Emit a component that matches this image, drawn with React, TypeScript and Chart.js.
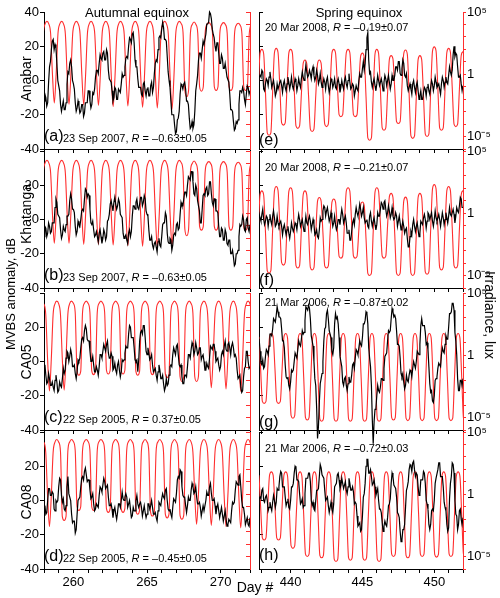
import React, { useEffect, useRef } from "react";
import { Chart, registerables } from "chart.js";
Chart.register(...registerables);

const FONT = "'Liberation Sans', Arial, Helvetica, sans-serif";
const RED = "#ff2e2e";

// ---------- axes ----------
const autumnRange = [258, 272];
const springRange = [437.8, 452];
const autumnTickDays = [258, 259, 260, 261, 262, 263, 264, 265, 266, 267, 268, 269, 270, 271, 272];
const springTickDays = [438, 439, 440, 441, 442, 443, 444, 445, 446, 447, 448, 449, 450, 451, 452];
const autumnLabelDays = [260, 265, 270];
const springLabelDays = [440, 445, 450];
const irradianceDecades = [-6, -5, -4, -3, -2, -1, 0, 1, 2, 3, 4, 5];

// ---------- sampling ----------
const blackSamplesPerDay = 16;
const redSamplesPerDay = 8;
const autumnBlackStart = 258.0;
const springBlackStart = 437.75;
const redStartAnabarKhatangaAutumn = 257.7;
const redStartCAAutumn = 257.37;
const redStartAnabarKhatangaSpring = 437.5;
const redStartCASpring = 437.16;

// ---------- MVBS anomaly, dB (black), 16 samples per day ----------
const anabarAutumnMVBS = [
  -12, -8, -10, -15, -13, -1, 8, 11, 18, 23, 24, 18, 21, 19, 10, 0,
  -3, -6, -14, -18, -15, -12, -17, -17, -13, -2, 5, 4, 10, 12, 8, 0,
  -2, -5, -13, -18, -16, -12, -15, -19, -18, -14, -14, -21, -19, -13, -13, -13,
  -6, -6, -12, -16, -14, -7, -8, -5, 2, 6, 6, 4, 10, 15, 13, 12,
  16, 17, 12, 12, 18, 16, 6, 1, 0, -1, -6, -12, -10, -4, -5, -11,
  -11, -5, -6, -7, -2, 4, 2, 3, 8, 13, 14, 13, 20, 25, 24, 22,
  27, 28, 22, 12, 8, 8, 1, -4, -4, -4, -8, -9, -2, -1, -6, -9,
  -5, -4, -9, -9, -3, -1, -7, -4, 4, 10, 12, 11, 18, 25, 26, 25,
  30, 34, 31, 24, 24, 23, 14, 5, 0, -4, -12, -20, -20, -20, -26, -31,
  -30, -23, -22, -18, -8, -2, -3, -5, -2, -1, -5, -12, -12, -14, -22, -28,
  -27, -24, -28, -26, -18, -6, -2, 3, 12, 16, 16, 13, 18, 23, 21, 21,
  27, 33, 33, 34, 40, 39, 36, 30, 27, 25, 20, 17, 22, 22, 16, 10,
  10, 15, 13, 7, 7, 10, 6, 2, 2, -1, -8, -17, -17, -18, -24, -29,
  -28, -24, -25, -23, -14, -6, -6, -7, -4, -6, -11, -14, -8, -3, -4, -8,
  -6,
];
const khatangaAutumnMVBS = [
  -10, -4, -5, -10, -8, -2, -4, -8, -7, -2, -2, -2, 7, 12, 10, 3,
  2, 1, -6, -11, -9, -4, -6, -7, -3, 2, 2, 3, 11, 15, 12, 6,
  6, 4, -4, -9, -7, -1, -3, -4, 0, 5, 6, 5, 12, 18, 17, 13,
  15, 14, 6, -2, -3, -1, -6, -10, -9, -7, -10, -13, -8, -6, -10, -14,
  -11, -6, -8, -12, -10, -1, 0, 3, 9, 11, 8, 5, 10, 13, 9, 6,
  8, 12, 10, 3, 2, 1, -8, -11, -10, -9, -12, -14, -8, -6, -10, -7,
  2, 8, 8, 6, 10, 12, 7, 6, 9, 13, 13, 8, 10, 14, 12, 5,
  3, 2, -6, -12, -12, -10, -15, -17, -14, -13, -16, -19, -13, -11, -15, -16,
  -10, -3, -2, -2, 4, 2, -8, -13, -14, -11, -12, -18, -15, -9, -8, -9,
  -3, -2, -6, -5, 3, 10, 8, 8, 12, 16, 16, 14, 20, 25, 24, 23,
  28, 28, 22, 15, 14, 20, 18, 11, 8, 5, -2, -2, 6, 14, 15, 14,
  18, 19, 14, 15, 22, 22, 15, 10, 8, 12, 12, 5, 5, 4, -4, -10,
  -10, -5, -6, -12, -12, -6, -8, -14, -15, -12, -12, -20, -20, -18, -22, -27,
  -26, -20, -20, -18, -10, -3, -4, -3, 2, 0, -6, -7, 0, 1, -5, -7,
  -3,
];
const ca05AutumnMVBS = [
  -3, -2, -8, -13, -12, -7, -10, -14, -14, -12, -15, -17, -11, -8, -12, -18,
  -17, -12, -14, -15, -10, -4, -7, -5, 2, 6, 5, 0, 3, 7, 4, -3,
  -3, -2, -7, -10, -6, 1, 0, 2, 8, 13, 14, 12, 18, 21, 19, 13,
  12, 12, 6, 0, 0, 3, -2, -6, -6, -3, -5, -8, -3, 4, 4, 2,
  6, 10, 8, 6, 10, 12, 5, 2, 2, 5, 3, -5, -4, -1, -5, -7,
  -2, 0, -5, -9, -6, 1, 0, 1, 5, 9, 8, 8, 16, 21, 20, 14,
  14, 14, 8, 1, 0, 1, -6, 1, 12, 17, 18, 16, 21, 21, 14, 6,
  4, 8, 5, 1, 2, 4, -2, -6, -5, -4, -8, -11, -6, -2, -5, -10,
  -10, -8, -13, -17, -15, -10, -14, -13, -8, -3, -2, -3, 4, 8, 6, 4,
  9, 10, 4, -2, -3, -2, -9, -13, -13, -8, -8, -9, -3, 4, 4, 2,
  7, 11, 9, 4, 6, 11, 8, 4, 5, 8, 8, 1, 3, 4, 0, -5,
  -5, -1, -3, -4, 2, 9, 8, 7, 10, 10, 6, 0, 1, 2, -2, -5,
  -3, 4, 6, 4, 9, 12, 7, 6, 10, 11, 8, 4, 9, 11, 8, 3,
  4, 2, -5, -10, -10, -8, -15, -18, -17, -9, -4, -3, 6, 6, 0, -4,
  -3,
];
const ca08AutumnMVBS = [
  -4, -3, -8, -7, 0, 7, 7, 3, 3, 5, 4, -5, -6, 0, -1, 0,
  8, 13, 12, 3, -1, 1, -5, -6, -3, 8, 14, 4, 2, 0, -8, -13,
  -12, -12, -19, -17, -8, 0, 0, 2, 8, 13, 14, 12, 17, 19, 15, 11,
  12, 12, 6, 1, 2, 4, -2, -6, -5, -2, -3, -4, 3, 8, 7, 5,
  9, 13, 11, 7, 8, 9, 2, -3, -3, -2, -5, -10, -6, -4, -8, -11,
  -7, -2, -2, -4, 0, 5, 1, 0, 2, 4, 2, -4, -2, 0, -5, -10,
  -9, -4, -6, -6, 0, 3, -2, -4, -2, -1, -4, -9, -6, -3, -7, -10,
  -8, -2, -2, -5, -3, 0, -4, -8, -8, -7, -10, -12, -6, -1, -2, -3,
  1, 4, 2, 1, 6, 7, 0, -5, -6, -5, -8, -10, -4, 1, 0, -1,
  4, 12, 14, 13, 18, 17, 8, 3, 2, 2, -3, -7, -3, 2, 0, 0,
  6, 10, 8, 4, 5, 8, 2, -2, -2, -1, -4, -9, -6, -3, -6, -6,
  0, 5, 3, 3, 8, 10, 4, 0, 0, 1, -3, -8, -4, -2, -6, -10,
  -7, -4, -8, -12, -9, -6, -11, -15, -14, -11, -12, -13, -6, -1, -2, -1,
  6, 11, 10, 9, 14, 15, 8, 0, -4, -4, -8, -14, -12, -10, -14, -15,
  -10,
];
const anabarSpringMVBS = [
  -5, 2, 3, 2, 6, 5, -5, -6, -2, 1, 0, -3, 2, 5, 1, -4,
  -2, 0, -4, -9, -7, -2, -5, -5, -1, 0, -3, -7, -2, 0, -4, -6,
  -2, 2, -1, -5, -2, 2, -3, -5, -2, 1, -1, -6, -3, 1, -2, -4,
  1, 5, 2, 0, 4, 9, 5, 2, 3, 6, 4, 1, 6, 8, 3, 0,
  2, 6, 3, -2, 0, 4, -1, -4, -2, 1, -1, -5, 0, 2, -3, -7,
  -4, 1, 0, -4, -2, 1, -4, -5, -1, 1, -2, -7, -4, 0, -3, -5,
  0, 2, -2, -4, 0, 4, -1, -5, -4, -2, -3, -9, -6, -3, -5, -6,
  0, 4, 2, 2, 7, 11, 6, 10, 18, 25, 28, 12, 4, 5, -1, -4,
  -1, 1, -3, -6, -2, 3, 0, -3, -1, 1, -2, -6, -1, 3, 1, -3,
  0, 3, -1, -5, -2, 3, 0, 0, 3, 8, 8, 6, 11, 11, 4, 3,
  7, 12, 10, 3, 2, 4, -3, -6, -4, -2, -5, -8, -2, 0, -4, -7,
  -3, -1, -6, -11, -9, -6, -11, -11, -7, -4, -5, -9, -4, -2, -6, -8,
  -4, 0, -2, -6, -3, 2, -1, -4, -3, -2, -5, -8, -2, 2, 0, -4,
  -1, 2, -1, -2, 3, 8, 5, 3, 6, 15, 20, 14, 16, 15, 8, 2,
  2, 3, -2, -6, -3,
];
const khatangaSpringMVBS = [
  -2, 3, 1, -1, 3, 6, 0, -3, -1, 2, 1, -4, 0, 3, -1, -3,
  2, 5, 1, -4, -3, 2, -2, -4, -2, -1, -4, -9, -5, -3, -6, -9,
  -6, -4, -8, -11, -7, -2, -5, -7, -5, -2, -3, -6, -1, 3, 0, -4,
  -2, 0, -4, -7, -3, 2, -2, -3, 0, 2, -1, -6, -3, 0, -3, -9,
  -8, -6, -10, -11, -6, 1, -1, 0, 5, 8, 7, 2, 5, 7, 3, -1,
  1, 4, 0, -4, -2, 2, -3, -6, -4, 0, 0, -3, 2, 6, 3, -2,
  0, 2, -2, -8, -8, -6, -12, -12, -7, -2, 0, -3, 3, 7, 4, 2,
  5, 9, 6, 2, 4, 7, 1, -2, -1, 0, -4, -5, 2, 4, -1, -4,
  -1, 1, -3, -6, -3, 4, 2, 2, 6, 10, 9, 6, 10, 11, 6, 2,
  4, 8, 5, 1, 3, 7, 2, 0, 1, 4, 2, -4, -1, 2, -2, -6,
  -4, -1, -4, -8, -6, -5, -11, -16, -16, -10, -7, -9, -3, 0, -4, -7,
  -4, -2, -6, -10, -8, -1, -2, -3, 1, 3, 0, -5, -1, 4, 3, 0,
  2, 4, -1, -4, 0, 5, 1, -1, 1, 3, 0, -4, 0, 4, 1, -3,
  0, 4, 1, -2, 2, 7, 3, 2, 4, 6, 3, -2, 2, 7, 5, 4,
  8, 13, 12, 7, 7,
];
const ca05SpringMVBS = [
  13, 13, 6, -1, -2, 1, -4, -3, 3, 7, 6, 4, 9, 16, 16, 15,
  19, 25, 24, 23, 27, 32, 29, 26, 26, 25, 19, 12, 12, 8, -2, -9,
  -10, -9, -14, -16, -12, -5, -6, -5, 0, 5, 5, 2, 7, 12, 10, 9,
  13, 18, 16, 17, 24, 32, 31, 30, 33, 31, 25, 15, 12, 9, 0, -10,
  -14, -27, -45, -38, -24, -13, -10, -7, 0, 12, 19, 20, 28, 30, 25, 18,
  16, 14, 6, 4, 8, 22, 28, 25, 26, 22, 14, 3, 0, -3, -12, -14,
  -10, -9, -14, -17, -13, -9, -12, -12, -8, -2, -1, -4, 2, 7, 6, 4,
  8, 12, 10, 9, 14, 22, 22, 24, 29, 28, 22, 8, 2, -3, -14, -34,
  -48, -35, -28, -27, -20, -14, -17, -18, -15, -10, -10, -11, -4, 3, 4, 5,
  12, 18, 17, 18, 25, 31, 29, 26, 27, 25, 18, 10, 10, 9, 2, -7,
  -9, -7, -12, -16, -14, -8, -11, -12, -8, -5, -6, -9, -4, 0, -2, -4,
  0, 6, 5, 4, 10, 21, 25, 21, 21, 21, 17, 10, 11, 7, -3, -13,
  -18, -17, -23, -24, -20, -11, -10, -9, -4, -1, -2, -3, 4, 8, 6, 5,
  10, 15, 13, 13, 20, 28, 28, 29, 34, 34, 30, 17, 12, 4, -10, -17,
  -17, -11, -11, -14, -10,
];
const ca08SpringMVBS = [
  -6, 1, 2, 1, 6, 7, 0, -1, 2, 3, 0, -6, -4, -1, -4, -6,
  -1, 3, 0, -4, -1, 7, 6, 8, 14, 17, 16, 8, 8, 8, 2, -3,
  -1, 1, -4, -5, 0, 8, 8, 10, 16, 20, 19, 12, 12, 11, 4, -2,
  -1, 1, -4, -3, 4, 13, 13, 13, 16, 16, 11, 0, -3, -1, -5, -6,
  0, 6, 6, 7, 14, 21, 19, 15, 15, 13, 6, 0, 1, 2, -3, -7,
  -4, -1, -5, -7, -2, 8, 9, 10, 15, 16, 12, 7, 9, 13, 10, 7,
  9, 11, 6, 4, 8, 13, 10, 6, 6, 8, 5, -2, -1, -2, -9, -15,
  -14, -13, -18, -17, -9, 2, 4, 10, 20, 24, 24, 16, 16, 18, 14, 9,
  10, 12, 8, 3, 5, 7, 0, -5, -5, -7, -13, -18, -15, -12, -14, -15,
  -10, -3, -2, 1, 10, 16, 14, 9, 8, 7, 2, -7, -8, -10, -18, -24,
  -23, -17, -17, -14, -4, 6, 8, 11, 18, 21, 20, 17, 22, 23, 18, 14,
  16, 15, 8, 3, 4, 12, 12, 12, 17, 16, 10, 0, -2, -5, -14, -17,
  -14, -6, -5, -6, 0, 10, 13, 13, 18, 22, 22, 14, 14, 14, 8, -1,
  -4, -6, -14, -18, -16, 1, 10, 14, 22, 21, 16, 0, -8, -9, -17, -14,
  -6, -5, -11, -14, -10,
];

// ---------- Irradiance, log10(lux) (red), 8 samples per day ----------
const anabarAutumnIrr = [
  -2.4, -0.07, 3.25, 4.05, 4.25, 4.05, 3.27, -0.01,
  -2.3, -0.01, 3.27, 4.05, 4.25, 4.05, 3.25, -0.07,
  -2.4, -0.07, 3.25, 4.05, 4.25, 4.05, 3.25, -0.1,
  -2.45, -0.1, 3.25, 4.05, 4.25, 4.05, 3.24, -0.14,
  -2.5, -0.14, 3.24, 4.05, 4.25, 4.05, 3.22, -0.2,
  -2.6, -0.2, 3.22, 4.05, 4.25, 4.05, 3.23, -0.17,
  -2.55, -0.17, 3.23, 4.05, 4.25, 4.05, 3.22, -0.24,
  -2.65, -0.24, 3.22, 4.05, 4.25, 4.05, 3.21, -0.27,
  -2.7, -0.27, 3.21, 4.05, 4.25, 4.04, 3.19, -0.33,
  -2.8, -0.33, 3.19, 4.04, 4.25, 4.07, 3.34, -1.3,
  -1.8, -1.3, 3.3, 4.0, 4.2, 4.0, 3.3, -1.0,
  -1.35, -1.0, 3.3, 4.0, 4.15, 4.0, 3.3, -1.0,
  -1.3, -1.0, 3.3, 4.0, 4.15, 4.0, 3.3, -1.0,
  -1.3, -1.0, 3.25, 3.95, 4.1, 3.95, 3.25, -1.0,
  -1.3, -1.0, 3.25, 3.95, 4.1, 3.95, 3.25, -1.0,
  -1.3,
];
const khatangaAutumnIrr = [
  -2.4, -0.07, 3.25, 4.05, 4.25, 4.05, 3.25, -0.07,
  -2.4, -0.07, 3.25, 4.05, 4.25, 4.05, 3.25, -0.07,
  -2.4, -0.07, 3.25, 4.05, 4.25, 4.05, 3.24, -0.14,
  -2.5, -0.14, 3.24, 4.05, 4.25, 4.05, 3.24, -0.14,
  -2.5, -0.14, 3.24, 4.05, 4.25, 4.05, 3.23, -0.17,
  -2.55, -0.17, 3.23, 4.05, 4.25, 4.05, 3.22, -0.2,
  -2.6, -0.2, 3.22, 4.05, 4.25, 4.05, 3.22, -0.24,
  -2.65, -0.24, 3.22, 4.05, 4.25, 4.05, 3.21, -0.27,
  -2.7, -0.27, 3.21, 4.05, 4.25, 4.05, 3.22, -0.2,
  -2.6, -0.2, 3.22, 4.05, 4.25, 4.07, 3.34, -1.3,
  -1.8, -1.3, 3.3, 4.0, 4.2, 4.0, 3.3, -1.05,
  -1.35, -1.05, 3.3, 4.0, 4.15, 4.0, 3.3, -1.05,
  -1.35, -1.05, 3.3, 4.0, 4.15, 4.0, 3.3, -1.05,
  -1.35, -1.05, 3.25, 3.95, 4.1, 3.95, 3.25, -1.05,
  -1.35, -1.05, 3.25, 3.95, 4.1, 3.95, 3.25, -1.05,
  -1.35,
];
const ca05AutumnIrr = [
  -2.8, -0.3, 3.28, 4.14, 4.35, 4.13, 3.27, -0.34,
  -2.87, -0.34, 3.27, 4.13, 4.35, 4.14, 3.28, -0.3,
  -2.8, -0.3, 3.28, 4.14, 4.35, 4.17, 3.46, -1.3,
  -1.6, -1.3, 3.46, 4.17, 4.35, 4.17, 3.46, -1.25,
  -1.55, -1.25, 3.46, 4.17, 4.35, 4.17, 3.47, -1.2,
  -1.5, -1.2, 3.47, 4.17, 4.35, 4.17, 3.47, -1.2,
  -1.5, -1.2, 3.47, 4.17, 4.35, 4.17, 3.46, -1.3,
  -1.6, -1.3, 3.46, 4.17, 4.35, 4.17, 3.46, -1.25,
  -1.55, -1.25, 3.46, 4.17, 4.35, 4.17, 3.43, -1.5,
  -1.8, -1.5, 3.43, 4.17, 4.35, 4.16, 3.38, -1.7,
  -2.1, -1.7, 3.38, 4.16, 4.35, 4.16, 3.38, -1.7,
  -2.1, -1.7, 3.38, 4.16, 4.35, 4.14, 3.31, -0.17,
  -2.6, -0.17, 3.31, 4.14, 4.35, 4.14, 3.29, -0.23,
  -2.7, -0.23, 3.29, 4.14, 4.35, 4.13, 3.26, -0.36,
  -2.9, -0.36, 3.26, 4.13, 4.35, 4.13, 3.26, -0.36,
  -2.9,
];
const ca08AutumnIrr = [
  -2.6, -0.15, 3.35, 4.19, 4.4, 4.19, 3.35, -0.15,
  -2.6, -0.15, 3.35, 4.19, 4.4, 4.2, 3.43, -1.8,
  -2.1, -1.8, 3.43, 4.2, 4.4, 4.23, 3.54, -1.0,
  -1.3, -1.0, 3.54, 4.23, 4.4, 4.23, 3.54, -1.0,
  -1.3, -1.0, 3.54, 4.23, 4.4, 4.23, 3.52, -1.15,
  -1.45, -1.15, 3.52, 4.23, 4.4, 4.23, 3.52, -1.15,
  -1.45, -1.15, 3.52, 4.23, 4.4, 4.22, 3.5, -1.3,
  -1.6, -1.3, 3.5, 4.22, 4.4, 4.22, 3.48, -1.45,
  -1.75, -1.45, 3.48, 4.22, 4.4, 4.21, 3.45, -1.6,
  -1.9, -1.6, 3.45, 4.21, 4.4, 4.21, 3.44, -1.7,
  -2.0, -1.7, 3.44, 4.21, 4.4, 4.2, 3.38, -0.02,
  -2.4, -0.02, 3.38, 4.2, 4.4, 4.2, 3.37, -0.09,
  -2.5, -0.09, 3.37, 4.2, 4.4, 4.19, 3.35, -0.15,
  -2.6, -0.15, 3.35, 4.19, 4.4, 4.19, 3.34, -0.22,
  -2.7, -0.22, 3.34, 4.19, 4.4, 4.19, 3.34, -0.22,
  -2.7,
];
const anabarSpringIrr = [
  -4.0, -3.8, -1.0, 1.7, 2.0, 1.65, -1.45, -4.7,
  -4.9, -4.7, -1.4, 1.73, 2.08, 1.75, -1.0, -3.9,
  -4.08, -3.9, -1.04, 1.7, 2.0, 1.7, -1.17, -4.15,
  -4.34, -4.15, -1.6, 0.87, 1.15, 0.86, -1.73, -4.4,
  -4.6, -4.4, -1.73, 0.86, 1.15, 0.88, -1.5, -4.0,
  -4.2, -4.0, -1.1, 1.7, 2.0, 1.73, -0.7, -3.24,
  -3.4, -3.24, -0.7, 1.73, 2.0, 1.73, -0.7, -3.24,
  -3.4, -3.25, -0.85, 1.45, 1.7, 1.35, -1.8, -5.1,
  -5.3, -5.1, -1.65, 1.63, 2.0, 1.67, -1.25, -4.3,
  -4.5, -4.3, -1.5, 1.2, 1.5, 1.23, -1.23, -3.8,
  -3.95, -3.8, -1.0, 1.65, 1.95, 1.6, -1.6, -4.95,
  -5.15, -4.95, -1.83, 1.17, 1.5, 1.18, -1.75, -4.8,
  -5.0, -4.8, -1.4, 1.84, 2.2, 1.87, -1.15, -4.3,
  -4.5, -4.3, -1.2, 1.75, 2.08, 1.77, -1.06, -4.0,
  -4.2, -4.0, -1.2, 1.5, 1.8, 1.5, -1.2, -4.0,
  -4.2,
];
const khatangaSpringIrr = [
  -4.0, -3.8, -1.1, 1.5, 1.8, 1.47, -1.5, -4.6,
  -4.8, -4.6, -1.33, 1.8, 2.15, 1.83, -1.0, -3.97,
  -4.16, -3.97, -1.05, 1.74, 2.05, 1.73, -1.18, -4.2,
  -4.4, -4.2, -1.3, 1.49, 1.8, 1.48, -1.38, -4.35,
  -4.55, -4.37, -1.64, 0.98, 1.27, 0.98, -1.57, -4.23,
  -4.4, -4.23, -1.63, 0.87, 1.15, 0.91, -1.23, -3.46,
  -3.6, -3.43, -0.78, 1.77, 2.05, 1.77, -0.78, -3.43,
  -3.6, -3.46, -1.35, 0.68, 0.9, 0.61, -2.05, -4.83,
  -5.0, -4.8, -1.48, 1.7, 2.05, 1.77, -0.78, -3.43,
  -3.6, -3.44, -1.0, 1.34, 1.6, 1.27, -1.7, -4.8,
  -5.0, -4.81, -1.85, 0.98, 1.3, 0.98, -1.85, -4.81,
  -5.0, -4.8, -1.7, 1.27, 1.6, 1.27, -1.65, -4.7,
  -4.9, -4.7, -1.3, 1.94, 2.3, 1.96, -1.13, -4.35,
  -4.55, -4.35, -1.2, 1.82, 2.15, 1.82, -1.13, -4.2,
  -4.4, -4.2, -1.3, 1.49, 1.8, 1.49, -1.3, -4.2,
  -4.4,
];
const ca05SpringIrr = [
  -3.9, -3.73, -1.08, 1.47, 1.75, 1.47, -1.06, -3.7,
  -3.86, -3.7, -1.06, 1.47, 1.75, 1.47, -1.06, -3.7,
  -3.86, -3.7, -1.06, 1.47, 1.75, 1.4, -1.66, -4.85,
  -5.06, -4.85, -1.66, 1.4, 1.75, 1.4, -1.73, -5.0,
  -5.2, -5.0, -1.73, 1.4, 1.75, 1.4, -1.78, -5.1,
  -5.3, -5.1, -1.78, 1.4, 1.75, 1.4, -1.78, -5.1,
  -5.3, -5.1, -1.78, 1.4, 1.75, 1.4, -1.78, -5.1,
  -5.3, -5.1, -1.78, 1.4, 1.75, 1.4, -1.78, -5.1,
  -5.3, -5.1, -1.78, 1.4, 1.75, 1.4, -1.78, -5.1,
  -5.3, -5.1, -1.78, 1.4, 1.75, 1.4, -1.73, -5.0,
  -5.2, -5.0, -1.73, 1.4, 1.75, 1.4, -1.75, -5.05,
  -5.25, -5.05, -1.75, 1.4, 1.75, 1.4, -1.75, -5.05,
  -5.25, -5.05, -1.75, 1.4, 1.75, 1.4, -1.75, -5.05,
  -5.25, -5.05, -1.75, 1.4, 1.75, 1.4, -1.75, -5.05,
  -5.25, -5.05, -1.75, 1.4, 1.75, 1.4, -1.75, -5.05,
  -5.25,
];
const ca08SpringIrr = [
  -3.7, -3.54, -0.95, 1.53, 1.8, 1.53, -0.94, -3.5,
  -3.67, -3.5, -0.94, 1.53, 1.8, 1.53, -0.94, -3.5,
  -3.67, -3.5, -0.94, 1.53, 1.8, 1.49, -1.27, -4.15,
  -4.34, -4.15, -1.27, 1.49, 1.8, 1.46, -1.6, -4.8,
  -5.0, -4.8, -1.6, 1.46, 1.8, 1.45, -1.65, -4.9,
  -5.1, -4.9, -1.65, 1.45, 1.8, 1.44, -1.8, -5.2,
  -5.4, -5.2, -1.8, 1.44, 1.8, 1.44, -1.75, -5.1,
  -5.3, -5.1, -1.75, 1.44, 1.8, 1.44, -1.75, -5.1,
  -5.3, -5.1, -1.75, 1.44, 1.8, 1.44, -1.8, -5.2,
  -5.4, -5.2, -1.8, 1.44, 1.8, 1.46, -1.6, -4.8,
  -5.0, -4.8, -1.6, 1.46, 1.8, 1.45, -1.65, -4.9,
  -5.1, -4.9, -1.65, 1.45, 1.8, 1.46, -1.6, -4.8,
  -5.0, -4.8, -1.6, 1.46, 1.8, 1.46, -1.63, -4.85,
  -5.05, -4.85, -1.63, 1.46, 1.8, 1.46, -1.6, -4.8,
  -5.0, -4.8, -1.6, 1.46, 1.8, 1.46, -1.6, -4.8,
  -5.0,
];

// ---------- text ----------
const stations = ["Anabar", "Khatanga", "CA05", "CA08"];
const autumnNotes = [
  { letter: "(a)", date: "23 Sep 2007", r: "–0.63±0.05" },
  { letter: "(b)", date: "23 Sep 2007", r: "–0.63±0.05" },
  { letter: "(c)", date: "22 Sep 2005", r: "0.37±0.05" },
  { letter: "(d)", date: "22 Sep 2005", r: "–0.45±0.05" },
];
const springNotes = [
  { letter: "(e)", date: "20 Mar 2008", r: "–0.19±0.07" },
  { letter: "(f)", date: "20 Mar 2008", r: "–0.21±0.07" },
  { letter: "(g)", date: "21 Mar 2006", r: "–0.87±0.02" },
  { letter: "(h)", date: "21 Mar 2006", r: "–0.72±0.03" },
];

// ---------- layout ----------
const ROW_TOP = [12, 151, 293, 432];
const PH = 137;
const COL_X = [44, 259];
const COL_W = [206, 204];
const SPRING_DATE_Y = [27, 167, 302, 448];
const SPRING_LETTER_Y = [140, 280, 422, 555];

type PanelDef = {
  row: number;
  col: number;
  black: number[];
  blackStart: number;
  red: number[];
  redStart: number;
};

const panels: PanelDef[] = [
  { row: 0, col: 0, black: anabarAutumnMVBS, blackStart: autumnBlackStart, red: anabarAutumnIrr, redStart: redStartAnabarKhatangaAutumn },
  { row: 1, col: 0, black: khatangaAutumnMVBS, blackStart: autumnBlackStart, red: khatangaAutumnIrr, redStart: redStartAnabarKhatangaAutumn },
  { row: 2, col: 0, black: ca05AutumnMVBS, blackStart: autumnBlackStart, red: ca05AutumnIrr, redStart: redStartCAAutumn },
  { row: 3, col: 0, black: ca08AutumnMVBS, blackStart: autumnBlackStart, red: ca08AutumnIrr, redStart: redStartCAAutumn },
  { row: 0, col: 1, black: anabarSpringMVBS, blackStart: springBlackStart, red: anabarSpringIrr, redStart: redStartAnabarKhatangaSpring },
  { row: 1, col: 1, black: khatangaSpringMVBS, blackStart: springBlackStart, red: khatangaSpringIrr, redStart: redStartAnabarKhatangaSpring },
  { row: 2, col: 1, black: ca05SpringMVBS, blackStart: springBlackStart, red: ca05SpringIrr, redStart: redStartCASpring },
  { row: 3, col: 1, black: ca08SpringMVBS, blackStart: springBlackStart, red: ca08SpringIrr, redStart: redStartCASpring },
];

function Panel({ p }: { p: PanelDef }) {
  const ref = useRef<HTMLCanvasElement>(null);
  const LW = p.col === 0 ? 44 : 8;
  const RW = p.col === 0 ? 8 : 37;
  const PT = 10;
  const BH = 26;
  const XH = p.row === 3 ? 26 : 6;
  const plotX = COL_X[p.col];
  const plotW = COL_W[p.col];
  const plotY = ROW_TOP[p.row];
  const W = LW + plotW + RW;
  const H = PT + PH + BH;

  useEffect(() => {
    const range = p.col === 0 ? autumnRange : springRange;
    const tickDays = p.col === 0 ? autumnTickDays : springTickDays;
    const labelDays = p.col === 0 ? autumnLabelDays : springLabelDays;
    const blackPts = p.black.map((v, i) => ({ x: p.blackStart + i / blackSamplesPerDay, y: v }));
    const redPts = p.red.map((v, i) => ({ x: p.redStart + i / redSamplesPerDay, y: v }));
    const chart = new Chart(ref.current as HTMLCanvasElement, {
      type: "line",
      data: {
        datasets: [
          {
            data: blackPts,
            borderColor: "#000",
            borderWidth: 1.2,
            pointRadius: 0,
            tension: 0,
            yAxisID: "y",
            clip: { left: 0, right: 0, top: false, bottom: false } as any,
          },
          {
            data: redPts,
            borderColor: RED,
            borderWidth: 1.1,
            pointRadius: 0,
            cubicInterpolationMode: "monotone",
            yAxisID: "y2",
          },
        ],
      },
      options: {
        responsive: false,
        animation: false,
        devicePixelRatio: 1,
        events: [],
        layout: { padding: { left: 0, right: 0, top: PT, bottom: BH - XH } },
        plugins: { legend: { display: false }, tooltip: { enabled: false }, title: { display: false } },
        scales: {
          x: {
            type: "linear",
            min: range[0],
            max: range[1],
            afterFit: (s: any) => {
              s.height = XH;
            },
            afterBuildTicks: (s: any) => {
              s.ticks = tickDays.map((v) => ({ value: v }));
            },
            ticks: {
              autoSkip: false,
              maxRotation: 0,
              padding: 2,
              color: "#000",
              font: { size: 13, family: FONT },
              callback: (v: any) => (p.row === 3 && labelDays.includes(Number(v)) ? String(v) : ""),
            },
            grid: { drawOnChartArea: false, drawTicks: true, tickLength: 4, color: "#000" },
            border: { display: true, color: "#000", width: 1 },
          },
          y: {
            type: "linear",
            position: "left",
            min: -40,
            max: 40,
            afterFit: (s: any) => {
              s.width = LW;
            },
            ticks: {
              stepSize: 20,
              display: p.col === 0,
              padding: 1,
              color: "#000",
              font: { size: 13, family: FONT },
              callback: (v: any) => (v === 40 && p.row > 0 ? "" : String(v)),
            },
            grid: { drawOnChartArea: false, drawTicks: true, tickLength: p.col === 0 ? 4 : -4, color: "#000" },
            border: { display: true, color: "#000", width: 1 },
          },
          y2: {
            type: "linear",
            position: "right",
            min: -6,
            max: 5,
            afterFit: (s: any) => {
              s.width = RW;
            },
            afterBuildTicks: (s: any) => {
              s.ticks = irradianceDecades.map((v) => ({ value: v }));
            },
            ticks: {
              autoSkip: false,
              display: p.col === 1,
              padding: 1,
              color: "#000",
              font: { size: 13, family: FONT },
              callback: (v: any) => (v === 5 ? "10⁵" : v === 0 ? "1" : v === -5 ? "10⁻⁵" : ""),
            },
            grid: { drawOnChartArea: false, drawTicks: true, tickLength: p.col === 0 ? -4 : 3, color: RED },
            border: { display: true, color: RED, width: 1 },
          },
        },
      } as any,
    });
    return () => chart.destroy();
  }, []);

  return (
    <canvas
      ref={ref}
      width={W}
      height={H}
      style={{ position: "absolute", left: plotX - LW, top: plotY - PT, width: W, height: H }}
    />
  );
}

function Txt({
  x,
  y,
  size,
  children,
  anchor = "left",
  rot = 0,
}: {
  x: number;
  y: number;
  size: number;
  children: React.ReactNode;
  anchor?: "left" | "center";
  rot?: number;
}) {
  const tx = anchor === "center" ? "-50%" : "0";
  return (
    <div
      style={{
        position: "absolute",
        left: x,
        top: y,
        fontFamily: FONT,
        fontSize: size,
        lineHeight: 1,
        whiteSpace: "nowrap",
        color: "#000",
        transform: `translate(${tx}, -50%) rotate(${rot}deg)`,
        transformOrigin: anchor === "center" ? "50% 50%" : "0 50%",
      }}
    >
      {children}
    </div>
  );
}

export default function App() {
  const stationY = [79, 214, 362, 502];
  return (
    <div style={{ position: "absolute", left: 0, top: 0, width: 500, height: 598, background: "#fff", overflow: "hidden" }}>
      {panels.map((p, i) => (
        <Panel key={i} p={p} />
      ))}
      <Txt x={137} y={12} size={13} anchor="center">Autumnal equinox</Txt>
      <Txt x={359} y={12} size={13} anchor="center">Spring equinox</Txt>
      {stations.map((s, i) => (
        <Txt key={s} x={26} y={stationY[i]} size={14} anchor="center" rot={-90}>
          {s}
        </Txt>
      ))}
      <Txt x={10} y={294} size={13} anchor="center" rot={-90}>MVBS anomaly, dB</Txt>
      <Txt x={490} y={315} size={14} anchor="center" rot={90}>Irradiance, lux</Txt>
      <Txt x={255} y={587} size={14} anchor="center">Day #</Txt>
      {autumnNotes.map((n, i) => {
        const bottom = ROW_TOP[i] + PH;
        return (
          <React.Fragment key={n.letter}>
            <Txt x={44} y={bottom - 13} size={16}>{n.letter}</Txt>
            <Txt x={63} y={bottom - 11} size={11}>
              {n.date}, <i>R</i> = {n.r}
            </Txt>
          </React.Fragment>
        );
      })}
      {springNotes.map((n, i) => (
        <React.Fragment key={n.letter}>
          <Txt x={259} y={SPRING_LETTER_Y[i]} size={16}>{n.letter}</Txt>
          <Txt x={265} y={SPRING_DATE_Y[i]} size={11}>
            {n.date}, <i>R</i> = {n.r}
          </Txt>
        </React.Fragment>
      ))}
    </div>
  );
}
